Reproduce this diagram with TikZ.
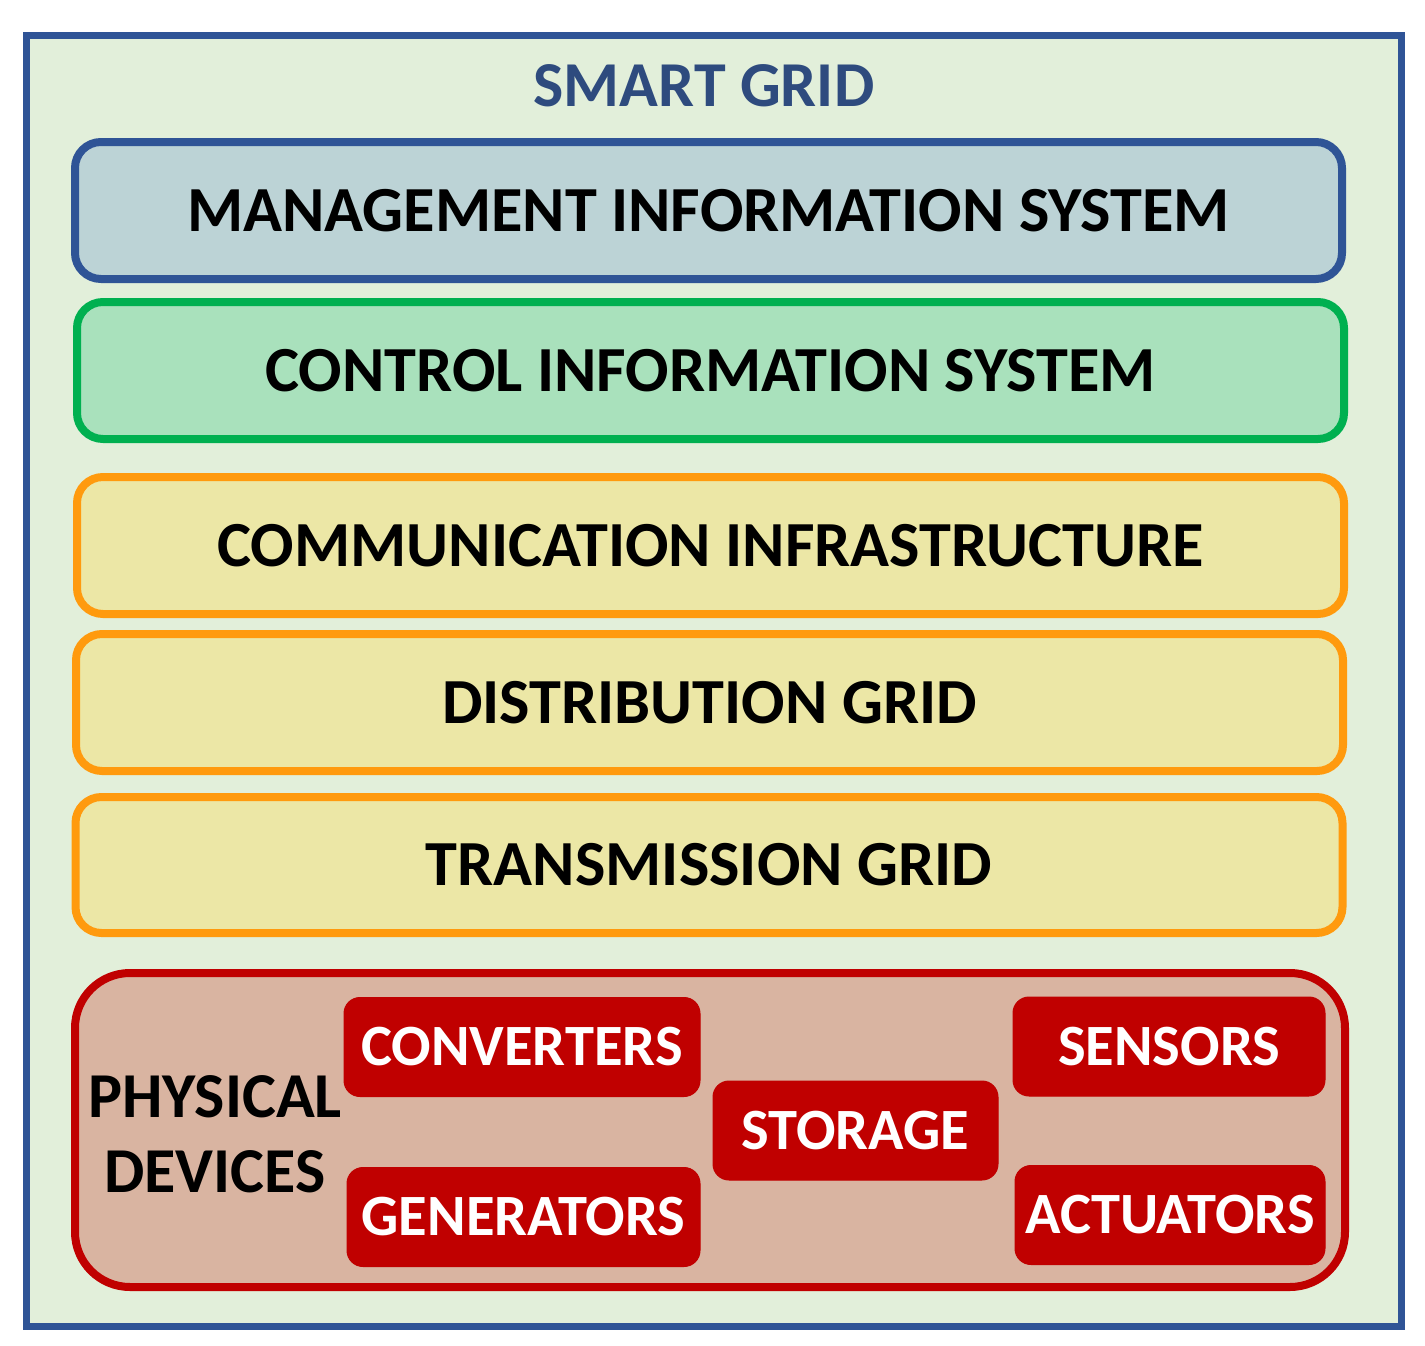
\documentclass[tikz,border=0pt]{standalone}
\usepackage{fontspec}
\setmainfont{Carlito}
\definecolor{frameblue}{HTML}{2F5496}
\definecolor{bgfill}{HTML}{E2EFDA}
\definecolor{titleblue}{HTML}{2E4B7E}
\definecolor{mgmtfill}{HTML}{BCD3D6}
\definecolor{ctrlline}{HTML}{00B050}
\definecolor{ctrlfill}{HTML}{A9E1BC}
\definecolor{orangeline}{HTML}{FF9A0E}
\definecolor{orangefill}{HTML}{ECE7A6}
\definecolor{devred}{HTML}{C00000}
\definecolor{physfill}{HTML}{D9B4A1}
\tikzset{
  layer/.style={draw, line width=8pt, rounded corners=26pt, inner sep=0pt,
    minimum width=1267pt, minimum height=137pt,
    font=\bfseries\fontsize{64.3}{68}\selectfont, text=black},
  devbox/.style={fill=devred, draw=devred, line width=1pt, rounded corners=16pt,
    inner sep=0pt, minimum height=99pt, text=white,
    font=\bfseries\fontsize{58.5}{62}\selectfont},
}
\begin{document}
\begin{tikzpicture}[x=1pt,y=-1pt]
\useasboundingbox (0,0) rectangle (1425,1346);
\fill[white] (0,0) rectangle (1425,1346);
\draw[frameblue, fill=bgfill, line width=7pt] (26,36) rectangle (1401,1326);
\node[font=\bfseries\fontsize{64}{68}\selectfont, text=titleblue] (title) at (704,86) {SMART GRID};

\node[layer, draw=frameblue, fill=mgmtfill] (mis) at (708.5,210.5) {MANAGEMENT INFORMATION SYSTEM};
\node[layer, draw=ctrlline, fill=ctrlfill] (cis) at (710.5,370.5) {CONTROL INFORMATION SYSTEM};
\node[layer, draw=orangeline, fill=orangefill] (comm) at (710.5,545.5) {COMMUNICATION INFRASTRUCTURE};
\node[layer, draw=orangeline, fill=orangefill] (dist) at (709.5,702.5) {DISTRIBUTION GRID};
\node[layer, draw=orangeline, fill=orangefill, minimum height=136pt] (trans) at (709,865) {TRANSMISSION GRID};

\node[draw=devred, fill=physfill, line width=8pt, rounded corners=55pt,
  minimum width=1270pt, minimum height=314pt] (phys) at (710,1130) {};
\node[align=center, font=\bfseries\fontsize{64}{75}\selectfont, text=black] (physlbl) at (215,1134) {PHYSICAL\\DEVICES};

\node[devbox, minimum width=356pt] (conv) at (522,1047) {CONVERTERS};
\node[devbox, minimum width=353pt] (gen) at (523.5,1217) {GENERATORS};
\node[devbox, minimum width=285pt] (stor) at (855.5,1130.5) {STORAGE};
\node[devbox, minimum width=312pt] (sens) at (1169,1046.5) {SENSORS};
\node[devbox, minimum width=310pt] (act) at (1170,1215) {ACTUATORS};
\end{tikzpicture}
\end{document}
